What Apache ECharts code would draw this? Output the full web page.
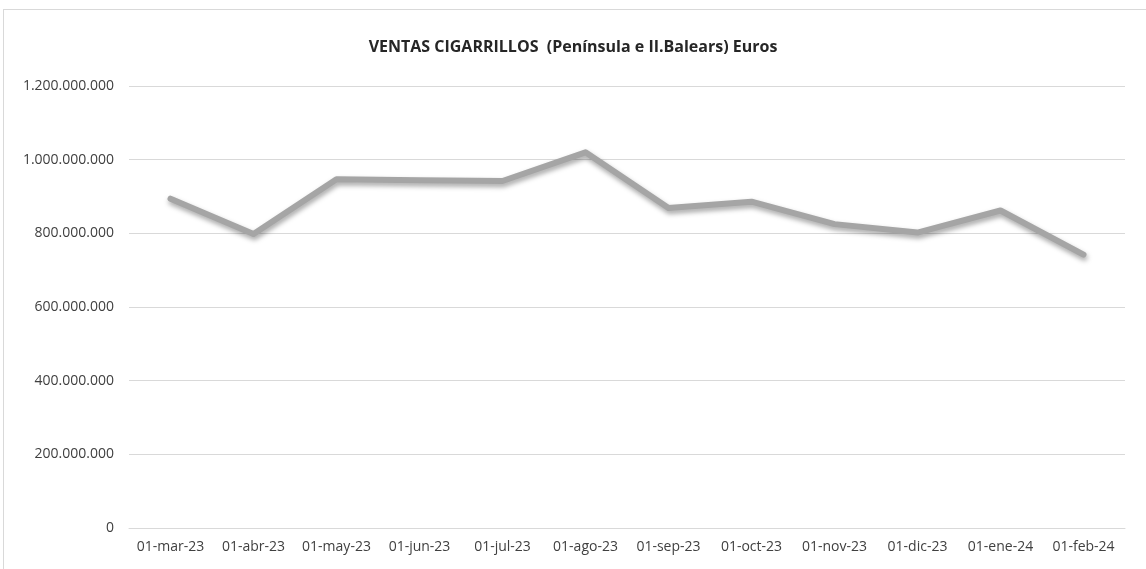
<!DOCTYPE html>
<html>
<head>
<meta charset="utf-8">
<script src="https://cdn.jsdelivr.net/npm/echarts@6/dist/echarts.min.js"></script>
<style>
  html, body { margin: 0; padding: 0; background: #fff; }
  #frame { position: absolute; left: 3px; top: 9px; width: 1300px; height: 700px; border: 1px solid #d9d9d9; }
  #chart { position: absolute; left: 0; top: 0; width: 1146px; height: 569px; }
</style>
</head>
<body>
<div id="frame"></div>
<div id="chart"></div>
<script>
// categorías (meses)
const months = ['01-mar-23', '01-abr-23', '01-may-23', '01-jun-23', '01-jul-23', '01-ago-23',
                '01-sep-23', '01-oct-23', '01-nov-23', '01-dic-23', '01-ene-24', '01-feb-24'];
// ventas en euros
const ventas = [894000000, 798000000, 947000000, 944000000, 942000000, 1020000000,
                869000000, 886000000, 825000000, 802000000, 862000000, 742000000];
const titulo = 'VENTAS CIGARRILLOS  (Península e II.Balears) Euros';

const myChart = echarts.init(document.getElementById('chart'));

const fmt = v => String(v).replace(/\B(?=(\d{3})+(?!\d))/g, '.');

const option = {
    backgroundColor: 'transparent',
    title: {
        text: titulo,
        left: 'center',
        top: 34,
        textStyle: { fontFamily: 'Open Sans', fontSize: 16, fontWeight: 'bold', color: '#262626' }
    },
    grid: { left: 129, right: 21, top: 86, bottom: 41 },
    xAxis: {
        type: 'category',
        data: months,
        boundaryGap: true,
        axisLine: { show: true, lineStyle: { color: '#d9d9d9', width: 1 } },
        axisTick: { show: false },
        axisLabel: { color: '#404040', fontFamily: 'Open Sans', fontSize: 14, margin: 12, interval: 0 }
    },
    yAxis: {
        type: 'value',
        min: 0,
        max: 1200000000,
        interval: 200000000,
        axisLine: { show: false },
        axisTick: { show: false },
        axisLabel: { color: '#404040', fontFamily: 'Open Sans', fontSize: 14, margin: 15, formatter: fmt },
        splitLine: { lineStyle: { color: '#d9d9d9', width: 1 } }
    },
    series: [{
        type: 'line',
        data: ventas,
        symbol: 'none',
        lineStyle: {
            color: '#a5a5a5',
            width: 6,
            cap: 'round',
            join: 'round',
            shadowColor: 'rgba(0,0,0,0.35)',
            shadowBlur: 5,
            shadowOffsetX: 1,
            shadowOffsetY: 3
        },
        animation: false
    }],
    animation: false
};

myChart.setOption(option);
</script>
</body>
</html>
